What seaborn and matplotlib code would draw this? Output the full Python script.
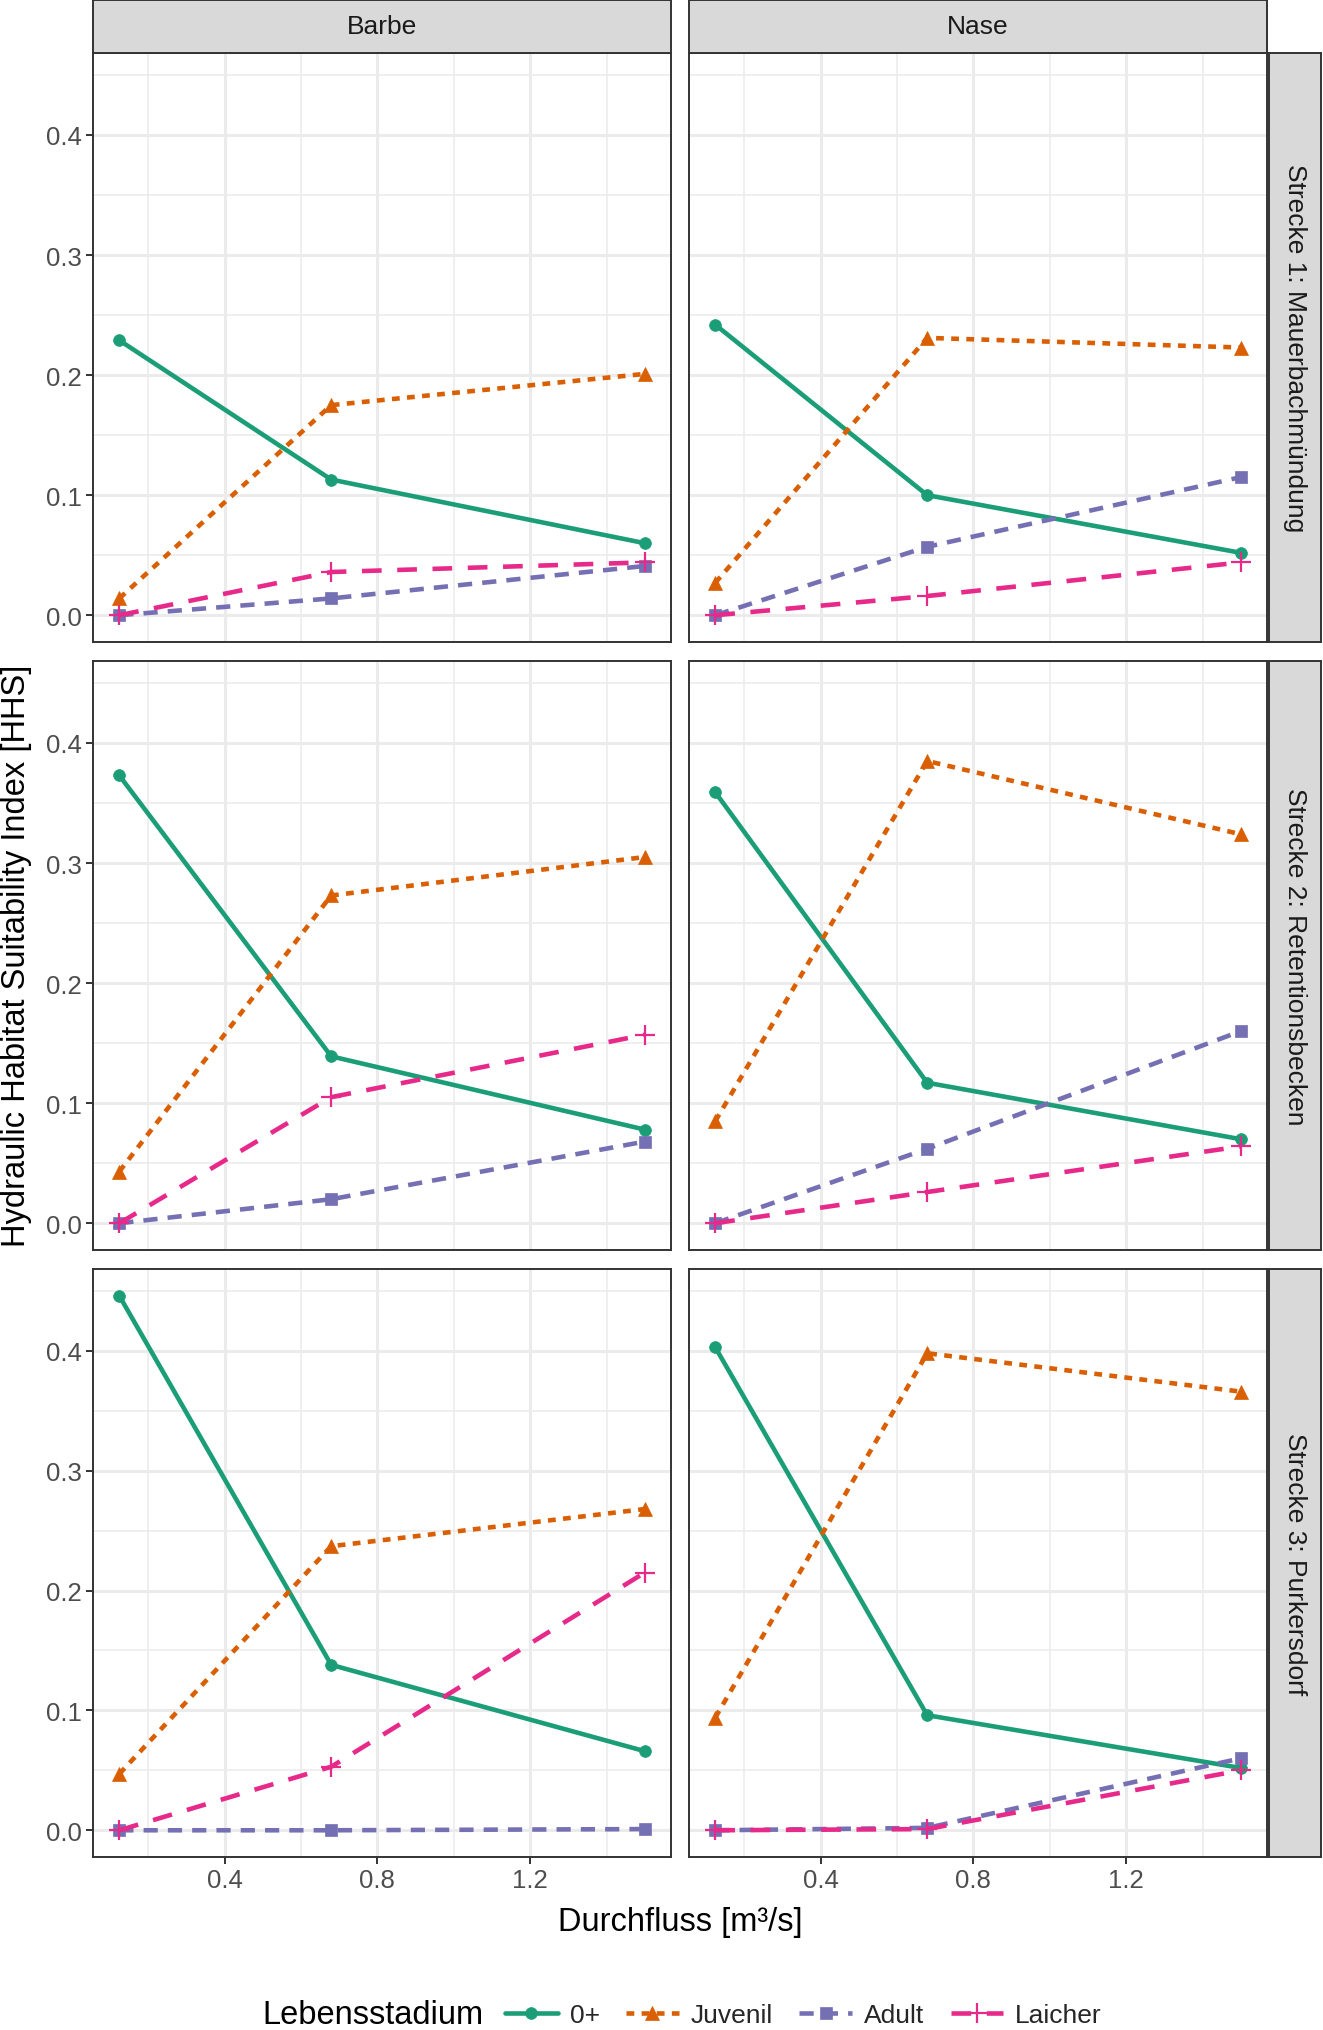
import pandas as pd
import seaborn as sns
from matplotlib import pyplot as plt
from matplotlib.colors import to_hex
from matplotlib.lines import Line2D

# flow values (x) and stage names
flow = [0.124, 0.679, 1.5]
stages = ["0+", "Juvenil", "Adult", "Laicher"]
species = ["Barbe", "Nase"]
reaches = ["Strecke 1: Mauerbachmündung",
           "Strecke 2: Retentionsbecken",
           "Strecke 3: Purkersdorf"]

# HHS values per panel, one list per stage
barbe_s1 = {"0+": [0.229, 0.113, 0.060], "Juvenil": [0.014, 0.175, 0.201],
            "Adult": [0.0, 0.014, 0.041], "Laicher": [0.0, 0.036, 0.044]}
nase_s1 = {"0+": [0.242, 0.100, 0.052], "Juvenil": [0.027, 0.231, 0.223],
           "Adult": [0.0, 0.057, 0.115], "Laicher": [0.0, 0.016, 0.044]}
barbe_s2 = {"0+": [0.373, 0.139, 0.078], "Juvenil": [0.043, 0.273, 0.305],
            "Adult": [0.0, 0.020, 0.068], "Laicher": [0.0, 0.105, 0.157]}
nase_s2 = {"0+": [0.359, 0.117, 0.070], "Juvenil": [0.085, 0.385, 0.324],
           "Adult": [0.0, 0.062, 0.160], "Laicher": [0.0, 0.026, 0.064]}
barbe_s3 = {"0+": [0.446, 0.138, 0.066], "Juvenil": [0.047, 0.237, 0.268],
            "Adult": [0.0, 0.0, 0.001], "Laicher": [0.0, 0.053, 0.215]}
nase_s3 = {"0+": [0.403, 0.096, 0.052], "Juvenil": [0.094, 0.398, 0.366],
           "Adult": [0.0, 0.002, 0.060], "Laicher": [0.0, 0.001, 0.050]}

panels = {("Barbe", reaches[0]): barbe_s1, ("Nase", reaches[0]): nase_s1,
          ("Barbe", reaches[1]): barbe_s2, ("Nase", reaches[1]): nase_s2,
          ("Barbe", reaches[2]): barbe_s3, ("Nase", reaches[2]): nase_s3}

rows = []
for (sp, re), vals in panels.items():
    for st in stages:
        for q, v in zip(flow, vals[st]):
            rows.append({"Art": sp, "Strecke": re, "Lebensstadium": st,
                         "Durchfluss": q, "HHS": v})
df = pd.DataFrame(rows)

colors = ["#1B9E77", "#D95F02", "#7570B3", "#E7298A"]
palette = dict(zip(stages, colors))
markers = dict(zip(stages, ["o", "^", "s", "+"]))
dashes = dict(zip(stages, ["", (1.7, 1.6), (3.1, 2.2), (4.3, 3.4)]))
msizes = dict(zip(stages, [8.5, 10, 8.5, 14]))
color_to_stage = {c.lower(): st for st, c in palette.items()}
LW = 3.3

sns.set_theme(style="white")
plt.rcParams["font.family"] = ["Liberation Sans", "DejaVu Sans"]

W, H = 1323, 2031
fig = plt.figure(figsize=(W / 100, H / 100), dpi=100)

col_x = [(93, 671), (689, 1267)]
row_y = [(54, 643), (662, 1251), (1270, 1858)]
dark = "#333333"


def box(x0, y0, x1, y1):
    return [x0 / W, 1 - y1 / H, (x1 - x0) / W, (y1 - y0) / H]


def style_strip(sa):
    sa.set_facecolor("#D9D9D9")
    sa.set_xticks([])
    sa.set_yticks([])
    for s in sa.spines.values():
        s.set_color(dark)
        s.set_linewidth(1.4)


ylo, yhi = df["HHS"].min(), df["HHS"].max()
ypad = 0.05 * (yhi - ylo)
xlo, xhi = min(flow), max(flow)
xpad = 0.05 * (xhi - xlo)

for r, re in enumerate(reaches):
    for c, sp in enumerate(species):
        x0, x1 = col_x[c]
        y0, y1 = row_y[r]
        ax = fig.add_axes(box(x0, y0, x1, y1))
        sub = df[(df["Art"] == sp) & (df["Strecke"] == re)]
        sns.lineplot(data=sub, x="Durchfluss", y="HHS", hue="Lebensstadium",
                     style="Lebensstadium", hue_order=stages, style_order=stages,
                     palette=palette, dashes=dashes, markers=False,
                     linewidth=LW, legend=False, ax=ax)
        # ggplot-like point shapes (filled and line-art mixed)
        for line in ax.get_lines():
            st = color_to_stage.get(to_hex(line.get_color()).lower())
            if st is None:
                continue
            line.set_marker(markers[st])
            line.set_markerfacecolor(palette[st])
            line.set_markeredgecolor(palette[st])
            line.set_markersize(msizes[st])
            line.set_markeredgewidth(1.6 if st == "Laicher" else 0.5)

        ax.set_xlim(xlo - xpad, xhi + xpad)
        ax.set_ylim(ylo - ypad, yhi + ypad)
        ax.set_xticks([0.4, 0.8, 1.2])
        ax.set_xticks([0.2, 0.6, 1.0, 1.4], minor=True)
        ax.set_yticks([0.0, 0.1, 0.2, 0.3, 0.4])
        ax.set_yticks([0.05, 0.15, 0.25, 0.35, 0.45], minor=True)
        ax.set_yticklabels(["0.0", "0.1", "0.2", "0.3", "0.4"])
        ax.set_xticklabels(["0.4", "0.8", "1.2"])
        ax.grid(which="major", color="#EBEBEB", linewidth=2.2)
        ax.grid(which="minor", color="#EBEBEB", linewidth=1.1)
        ax.set_axisbelow(True)
        ax.set_xlabel("")
        ax.set_ylabel("")
        for s in ax.spines.values():
            s.set_color(dark)
            s.set_linewidth(1.4)
        ax.tick_params(which="minor", length=0)
        ax.tick_params(which="major", length=5, width=1.4, color=dark,
                       labelsize=18.5, labelcolor="#4D4D4D", pad=3,
                       left=(c == 0), bottom=(r == 2),
                       labelleft=(c == 0), labelbottom=(r == 2))

        # facet strips
        if r == 0:
            sa = fig.add_axes(box(x0, 1, x1, 54))
            style_strip(sa)
            sa.text(0.5, 0.5, sp, ha="center", va="center", fontsize=19,
                    color="#1A1A1A", transform=sa.transAxes)
        if c == 1:
            sa = fig.add_axes(box(1269, y0, 1321, y1))
            style_strip(sa)
            sa.text(0.5, 0.5, re, ha="center", va="center", fontsize=19,
                    rotation=-90, color="#1A1A1A", transform=sa.transAxes)

fig.text((93 + 1267) / 2 / W, 1 - 1923 / H, "Durchfluss [m³/s]",
         ha="center", va="center", fontsize=23.5, color="black")
fig.text(17 / W, 1 - 956 / H, "Hydraulic Habitat Suitability Index [HHS]",
         ha="center", va="center", rotation=90, fontsize=23.5, color="black")

# legend along the bottom
handles = [Line2D([], [], color=palette[st], marker=markers[st],
                  markersize=msizes[st], markeredgecolor=palette[st],
                  markeredgewidth=1.6 if st == "Laicher" else 0.5,
                  linewidth=LW,
                  linestyle="-" if st == "0+" else (0, dashes[st]))
           for st in stages]
fig.text(262 / W, 15 / H, "Lebensstadium", ha="left", va="center",
         fontsize=23.5, color="black")
fig.legend(handles, stages, loc="center left", bbox_to_anchor=(505 / W, 15 / H),
           ncol=4, frameon=False, fontsize=19, handlelength=2.0,
           handletextpad=0.45, columnspacing=1.0, borderpad=0, borderaxespad=0)

fig.savefig("out.png", dpi=100)
